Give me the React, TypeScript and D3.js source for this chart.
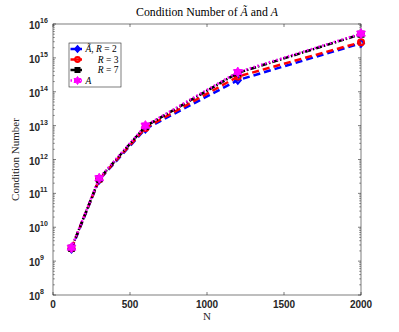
import React from "react";
import * as d3 from "d3";

const N = [120, 300, 600, 1200, 2000];
const seriesR2 = [2.3e9, 2.5e11, 8.0e12, 2.2e14, 2.7e15];
const seriesR3 = [2.4e9, 2.6e11, 8.5e12, 2.8e14, 2.9e15];
const seriesR7 = [2.4e9, 2.7e11, 9.5e12, 3.6e14, 5.0e15];
const seriesA = [2.5e9, 2.8e11, 1.0e13, 3.8e14, 5.2e15];
const xTicks = [0, 500, 1000, 1500, 2000];
const yExps = [8, 9, 10, 11, 12, 13, 14, 15, 16];

const W = 399, H = 332;
const L = 53, R = 361, T = 24, B = 295;

function star(cx: number, cy: number, r: number) {
  const pts: string[] = [];
  for (let i = 0; i < 12; i++) {
    const ang = (Math.PI / 6) * i - Math.PI / 2;
    const rr = i % 2 === 0 ? r : r * 0.6;
    pts.push(`${cx + rr * Math.cos(ang)},${cy + rr * Math.sin(ang)}`);
  }
  return pts.join(" ");
}

export default function App() {
  const x = d3.scaleLinear().domain([0, 2000]).range([L, R]);
  const y = d3.scaleLog().domain([1e8, 1e16]).range([B, T]);
  const line = d3.line<number>().x((_, i) => x(N[i])).y((d) => y(d));

  const minor: number[] = [];
  for (let e = 8; e < 16; e++) for (let k = 2; k <= 9; k++) minor.push(k * Math.pow(10, e));

  const series = [
    { data: seriesR2, color: "#0000ff", dash: "7,4", marker: "diamond" },
    { data: seriesR3, color: "#ff0000", dash: "7,4", marker: "circle" },
    { data: seriesR7, color: "#000000", dash: "6,2,1.5,2", marker: "square" },
    { data: seriesA, color: "#ff00ff", dash: "1.5,2.5", marker: "star" },
  ];

  const drawMarker = (m: string, cx: number, cy: number, color: string, key: any, s = 1) => {
    if (m === "diamond")
      return <polygon key={key} points={`${cx},${cy - 3.5 * s} ${cx + 3 * s},${cy} ${cx},${cy + 3.5 * s} ${cx - 3 * s},${cy}`} fill="none" stroke={color} strokeWidth={2} />;
    if (m === "circle") return <circle key={key} cx={cx} cy={cy} r={3 * s} fill="none" stroke={color} strokeWidth={2} />;
    if (m === "square") return <rect key={key} x={cx - 2.5 * s} y={cy - 2.5 * s} width={5 * s} height={5 * s} fill="none" stroke={color} strokeWidth={2} />;
    return <polygon key={key} points={star(cx, cy, 5 * s)} fill={color} stroke={color} strokeWidth={1} />;
  };

  const tickFont = "'Liberation Sans', Arial, sans-serif";
  const serif = "'Liberation Serif', 'Times New Roman', serif";

  const legendItems = [
    { label: <><tspan fontStyle="italic">Ã</tspan>, <tspan fontStyle="italic">R</tspan> = 2</>, s: series[0], anchor: "start" },
    { label: <><tspan fontStyle="italic">R</tspan> = 3</>, s: series[1], anchor: "end" },
    { label: <><tspan fontStyle="italic">R</tspan> = 7</>, s: series[2], anchor: "end" },
    { label: <tspan fontStyle="italic">A</tspan>, s: series[3], anchor: "start" },
  ];

  return (
    <svg width={W} height={H} style={{ position: "absolute", left: 0, top: 0, background: "#fff" }}>
      <rect x={0} y={0} width={W} height={H} fill="#fff" />
      <rect x={L} y={T} width={R - L} height={B - T} fill="none" stroke="#262626" strokeWidth={0.6} />
      {xTicks.map((t) => (
        <g key={"xt" + t}>
          <line x1={x(t)} x2={x(t)} y1={B} y2={B - 3} stroke="#262626" strokeWidth={0.6} />
          <line x1={x(t)} x2={x(t)} y1={T} y2={T + 3} stroke="#262626" strokeWidth={0.6} />
          <text x={x(t)} y={B + 13} textAnchor="middle" fontSize={10} fontWeight="bold" fontFamily={tickFont} fill="#262626">{t}</text>
        </g>
      ))}
      {yExps.map((e) => {
        const v = Math.pow(10, e);
        return (
          <g key={"yt" + e}>
            <line x1={L} x2={L + 3} y1={y(v)} y2={y(v)} stroke="#262626" strokeWidth={0.6} />
            <line x1={R} x2={R - 3} y1={y(v)} y2={y(v)} stroke="#262626" strokeWidth={0.6} />
            <text x={L - 13} y={y(v) + 5} textAnchor="end" fontSize={10} fontWeight="bold" fontFamily={tickFont} fill="#262626">10</text>
            <text x={L - 13} y={y(v) - 1} textAnchor="start" fontSize={7} fontWeight="bold" fontFamily={tickFont} fill="#262626">{e}</text>
          </g>
        );
      })}
      {minor.map((v, i) => (
        <g key={"mn" + i}>
          <line x1={L} x2={L + 1.8} y1={y(v)} y2={y(v)} stroke="#262626" strokeWidth={0.5} />
          <line x1={R} x2={R - 1.8} y1={y(v)} y2={y(v)} stroke="#262626" strokeWidth={0.5} />
        </g>
      ))}
      {series.map((s, i) => (
        <g key={"s" + i}>
          <path d={line(s.data) || ""} fill="none" stroke={s.color} strokeWidth={2.5} strokeDasharray={s.dash} />
          {s.data.map((d, j) => drawMarker(s.marker, x(N[j]), y(d), s.color, j))}
        </g>
      ))}
      <text x={(L + R) / 2} y={16} textAnchor="middle" fontSize={11.8} fontFamily={serif} fill="#000">
        Condition Number of <tspan fontStyle="italic">Ã</tspan> and <tspan fontStyle="italic">A</tspan>
      </text>
      <text x={(L + R) / 2} y={320} textAnchor="middle" fontSize={11} fontFamily={serif} fill="#262626">N</text>
      <text transform={`translate(19,${(T + B) / 2}) rotate(-90)`} textAnchor="middle" fontSize={11} fontFamily={serif} fill="#262626">Condition Number</text>
      <rect x={69} y={43} width={52} height={44} fill="#fff" stroke="#262626" strokeWidth={0.6} />
      {legendItems.map((it, i) => {
        const ly = 49 + i * 10.5;
        return (
          <g key={"lg" + i}>
            <line x1={70.5} x2={82} y1={ly} y2={ly} stroke={it.s.color} strokeWidth={2.5} strokeDasharray={it.s.marker === "star" ? "1.5,2" : undefined} />
            {drawMarker(it.s.marker, 77.5, ly, it.s.color, "m", 0.8)}
            <text x={it.anchor === "start" ? 85.5 : 118.5} y={ly + 3.3} textAnchor={it.anchor} fontSize={9.5} fontFamily={serif} fill="#000">{it.label}</text>
          </g>
        );
      })}
    </svg>
  );
}
